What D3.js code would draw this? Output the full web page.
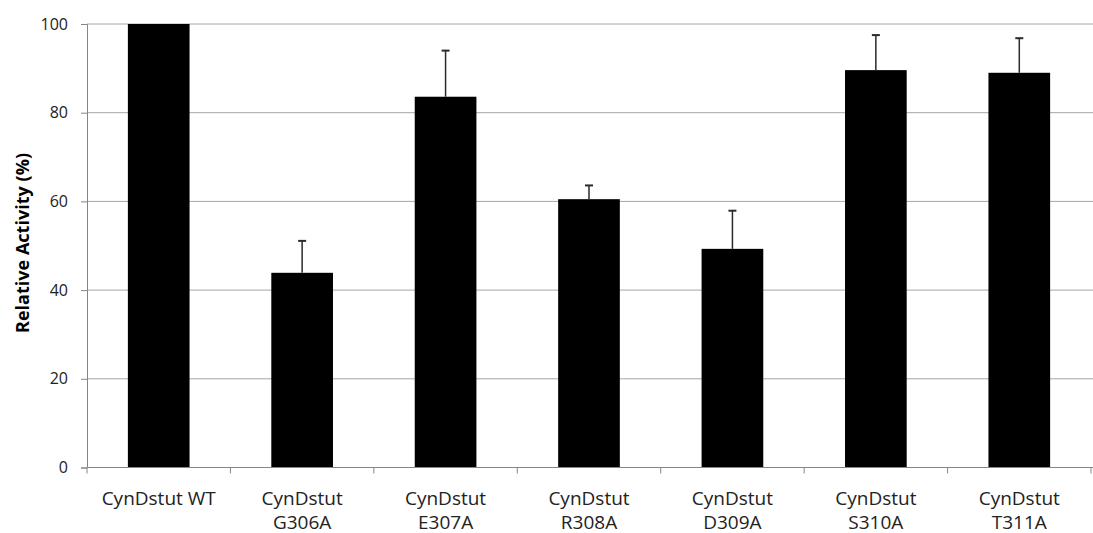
<!DOCTYPE html>
<html><head><meta charset="utf-8">
<script src="https://cdn.jsdelivr.net/npm/d3@7"></script>
<style>body{margin:0;background:#fff;} text{font-family:"Open Sans","Noto Sans",sans-serif;}</style>
</head><body><svg id="c" width="1093" height="533"></svg>
<script>
const categories = ["CynDstut WT","CynDstut G306A","CynDstut E307A","CynDstut R308A","CynDstut D309A","CynDstut S310A","CynDstut T311A"];
const labelLines = [["CynDstut WT"],["CynDstut","G306A"],["CynDstut","E307A"],["CynDstut","R308A"],["CynDstut","D309A"],["CynDstut","S310A"],["CynDstut","T311A"]];
const values = [100, 43.9, 83.6, 60.5, 49.3, 89.6, 89.0];
const errors = [0, 7.2, 10.4, 3.1, 8.6, 7.9, 7.8];
const yTicks = [0,20,40,60,80,100];
const yTitle = "Relative Activity (%)";

const svg = d3.select("#c");
const pLeft = 87, pRight = 1091, pTop = 24, pBottom = 467.5;
const x = d3.scaleBand().domain(categories).range([pLeft, pRight]).padding(0);
const y = d3.scaleLinear().domain([0,100]).range([pBottom, pTop]);
const barW = x.bandwidth()*0.43;

// gridlines
svg.append("g").selectAll("line").data(yTicks.filter(d=>d>0)).join("line")
  .attr("x1", pLeft).attr("x2", 1093).attr("y1", d=>y(d)).attr("y2", d=>y(d))
  .attr("stroke", "#a6a6a6").attr("stroke-width", 1);

// bars
svg.append("g").selectAll("rect").data(values).join("rect")
  .attr("x", (d,i)=>x(categories[i]) + x.bandwidth()/2 - barW/2)
  .attr("y", d=>y(d)).attr("width", barW).attr("height", d=>pBottom - y(d))
  .attr("fill", "#000");

// error bars
const eg = svg.append("g").attr("stroke", "#2a2a2a").attr("stroke-width", 1.5);
values.forEach((v,i)=>{
  if (!errors[i]) return;
  const cx = x(categories[i]) + x.bandwidth()/2;
  eg.append("line").attr("x1", cx).attr("x2", cx).attr("y1", y(v)).attr("y2", y(v+errors[i]));
  eg.append("line").attr("x1", cx-4).attr("x2", cx+4).attr("y1", y(v+errors[i])).attr("y2", y(v+errors[i])).attr("stroke-width", 2);
});

// y axis
const ya = svg.append("g").attr("transform", `translate(${pLeft},0)`)
  .call(d3.axisLeft(y).tickValues(yTicks).tickSize(6).tickPadding(13));
ya.select(".domain").attr("stroke", "#868686");
ya.selectAll(".tick line").attr("stroke", "#868686");
ya.selectAll(".tick text").attr("font-size", 16).attr("fill", "#222")
  .style("font-family", '"Open Sans","Noto Sans",sans-serif');

// x axis
const xa = svg.append("g").attr("transform", `translate(0,${pBottom})`);
xa.append("line").attr("x1", pLeft).attr("x2", pRight+2).attr("y1", 0).attr("y2", 0).attr("stroke", "#868686");
const bounds = categories.map(c=>x(c)).concat([pRight]);
xa.selectAll(".tk").data(bounds).join("line").attr("class","tk")
  .attr("x1", d=>d).attr("x2", d=>d).attr("y1", 0).attr("y2", 6).attr("stroke", "#868686");
labelLines.forEach((lines,i)=>{
  const cx = x(categories[i]) + x.bandwidth()/2;
  const t = xa.append("text").attr("text-anchor","middle").attr("font-size", 19).attr("fill","#222");
  lines.forEach((l,j)=>t.append("tspan").attr("x", cx).attr("y", 37 + j*24).text(l));
});

// y title
svg.append("text").attr("transform", `translate(29,243) rotate(-90)`)
  .attr("text-anchor","middle").attr("font-size", 18).attr("font-weight","bold").attr("fill","#000")
  .attr("textLength", 180).attr("lengthAdjust", "spacing")
  .text(yTitle);
</script></body></html>
